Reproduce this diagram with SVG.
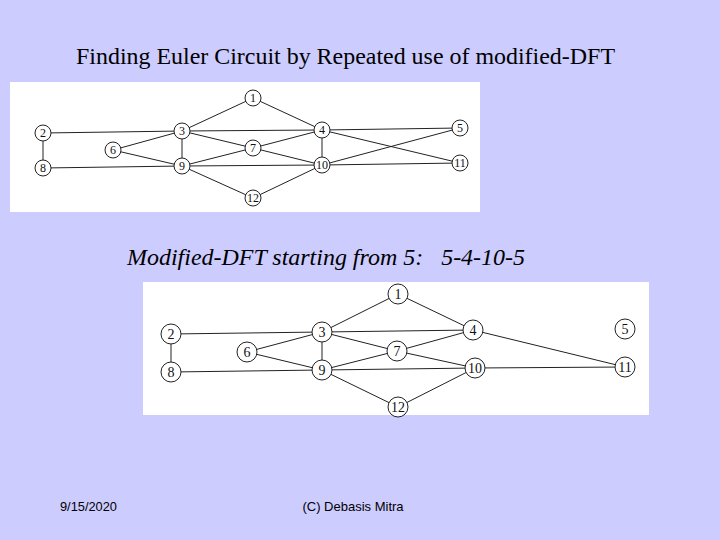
<svg xmlns="http://www.w3.org/2000/svg" width="720" height="540" viewBox="0 0 720 540">
<style>
.e{stroke:#222;stroke-width:1}
.n circle{fill:#fff;stroke:#222;stroke-width:1}
.n text{font-family:"Liberation Serif",serif;font-size:12px;text-anchor:middle;fill:#111}
.m circle{fill:#fff;stroke:#222;stroke-width:1}
.m text{font-family:"Liberation Serif",serif;font-size:14px;text-anchor:middle;fill:#111}
</style>
<rect width="720" height="540" fill="#ccccff"/>
<text x="76" y="64" font-family="Liberation Serif,serif" font-size="24" textLength="539" lengthAdjust="spacingAndGlyphs">Finding Euler Circuit by Repeated use of modified-DFT</text>
<text x="127" y="265" font-family="Liberation Serif,serif" font-size="23" font-style="italic" xml:space="preserve" textLength="398" lengthAdjust="spacingAndGlyphs">Modified-DFT starting from 5:   5-4-10-5</text>
<text x="60" y="511" font-family="Liberation Sans Narrow,Liberation Sans,sans-serif" font-size="13" textLength="57" lengthAdjust="spacingAndGlyphs">9/15/2020</text>
<text x="353" y="511" font-family="Liberation Sans Narrow,Liberation Sans,sans-serif" font-size="13" text-anchor="middle">(C) Debasis Mitra</text>
<rect x="10" y="82" width="470" height="130" fill="#fff"/>
<rect x="143" y="282" width="506" height="133" fill="#fff"/>
<g id="connectors1" class="e">
<line x1="253" y1="98" x2="182" y2="131"/><line x1="253" y1="98" x2="322" y2="130"/>
<line x1="43" y1="133" x2="182" y2="131"/><line x1="43" y1="133" x2="43" y2="168"/>
<line x1="182" y1="131" x2="322" y2="130"/><line x1="322" y1="130" x2="460" y2="128"/>
<line x1="182" y1="131" x2="113" y2="150"/><line x1="182" y1="131" x2="182" y2="166"/>
<line x1="182" y1="131" x2="253" y2="148"/><line x1="113" y1="150" x2="182" y2="166"/>
<line x1="253" y1="148" x2="322" y2="130"/><line x1="253" y1="148" x2="182" y2="166"/>
<line x1="253" y1="148" x2="322" y2="165"/><line x1="43" y1="168" x2="182" y2="166"/>
<line x1="182" y1="166" x2="322" y2="165"/><line x1="182" y1="166" x2="253" y2="198"/>
<line x1="322" y1="130" x2="322" y2="165"/><line x1="322" y1="130" x2="460" y2="163"/>
<line x1="460" y1="128" x2="322" y2="165"/><line x1="322" y1="165" x2="460" y2="163"/>
<line x1="322" y1="165" x2="253" y2="198"/>
</g>
<g id="g1n1" class="n"><circle cx="253" cy="98" r="8"/><text x="253" y="102">1</text></g>
<g id="g1n2" class="n"><circle cx="43" cy="133" r="8"/><text x="43" y="137">2</text></g>
<g id="g1n3" class="n"><circle cx="182" cy="131" r="8"/><text x="182" y="135">3</text></g>
<g id="g1n4" class="n"><circle cx="322" cy="130" r="8"/><text x="322" y="134">4</text></g>
<g id="g1n5" class="n"><circle cx="460" cy="128" r="8"/><text x="460" y="132">5</text></g>
<g id="g1n6" class="n"><circle cx="113" cy="150" r="8"/><text x="113" y="154">6</text></g>
<g id="g1n7" class="n"><circle cx="253" cy="148" r="8"/><text x="253" y="152">7</text></g>
<g id="g1n8" class="n"><circle cx="43" cy="168" r="8"/><text x="43" y="172">8</text></g>
<g id="g1n9" class="n"><circle cx="182" cy="166" r="8"/><text x="182" y="170">9</text></g>
<g id="g1n10" class="n"><circle cx="322" cy="165" r="8"/><text x="322" y="169">10</text></g>
<g id="g1n11" class="n"><circle cx="460" cy="163" r="8"/><text x="460" y="167">11</text></g>
<g id="g1n12" class="n"><circle cx="253" cy="198" r="8"/><text x="253" y="202">12</text></g>
<g id="connectors2" class="e">
<line x1="398" y1="294" x2="322" y2="332"/><line x1="398" y1="294" x2="473" y2="330"/>
<line x1="171" y1="334" x2="322" y2="332"/><line x1="171" y1="334" x2="171" y2="372"/>
<line x1="322" y1="332" x2="473" y2="330"/><line x1="322" y1="332" x2="247" y2="352"/>
<line x1="322" y1="332" x2="322" y2="370"/><line x1="322" y1="332" x2="397" y2="351"/>
<line x1="247" y1="352" x2="322" y2="370"/><line x1="397" y1="351" x2="473" y2="330"/>
<line x1="397" y1="351" x2="322" y2="370"/><line x1="397" y1="351" x2="475" y2="368"/>
<line x1="171" y1="372" x2="322" y2="370"/><line x1="322" y1="370" x2="475" y2="368"/>
<line x1="322" y1="370" x2="398" y2="407"/><line x1="473" y1="330" x2="625" y2="367"/>
<line x1="475" y1="368" x2="625" y2="367"/><line x1="475" y1="368" x2="398" y2="407"/>
</g>
<g id="g2n1" class="m"><circle cx="398" cy="294" r="10"/><text x="398" y="299">1</text></g>
<g id="g2n2" class="m"><circle cx="171" cy="334" r="10"/><text x="171" y="339">2</text></g>
<g id="g2n3" class="m"><circle cx="322" cy="332" r="10"/><text x="322" y="337">3</text></g>
<g id="g2n4" class="m"><circle cx="473" cy="330" r="10"/><text x="473" y="335">4</text></g>
<g id="g2n5" class="m"><circle cx="625" cy="329" r="10"/><text x="625" y="334">5</text></g>
<g id="g2n6" class="m"><circle cx="247" cy="352" r="10"/><text x="247" y="357">6</text></g>
<g id="g2n7" class="m"><circle cx="397" cy="351" r="10"/><text x="397" y="356">7</text></g>
<g id="g2n8" class="m"><circle cx="171" cy="372" r="10"/><text x="171" y="377">8</text></g>
<g id="g2n9" class="m"><circle cx="322" cy="370" r="10"/><text x="322" y="375">9</text></g>
<g id="g2n10" class="m"><circle cx="475" cy="368" r="10"/><text x="475" y="373">10</text></g>
<g id="g2n11" class="m"><circle cx="625" cy="367" r="10"/><text x="625" y="372">11</text></g>
<g id="g2n12" class="m"><circle cx="398" cy="407" r="10"/><text x="398" y="412">12</text></g>
</svg>
